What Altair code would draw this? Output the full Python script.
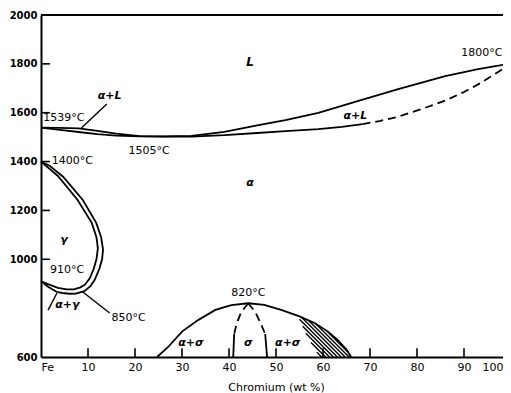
import altair as alt
import pandas as pd
import numpy as np

# ---------------- data ----------------
# liquidus (L / alpha+L), solid
liq_x = [0, 4, 8, 12, 16, 21, 26, 32, 39, 46, 52, 59, 67, 76, 86, 93, 97, 100]
liq_T = [1539, 1538, 1536, 1526, 1514, 1504, 1503, 1505, 1522, 1548, 1570, 1599, 1645, 1697, 1750, 1778, 1792, 1800]
# solidus (alpha+L / alpha), solid part
sol_x = [0, 4, 8, 12, 16, 21, 26, 32, 39, 46, 52, 59, 64, 68.4]
sol_T = [1539, 1530, 1521, 1512, 1506, 1503, 1502, 1502, 1508, 1517, 1525, 1533, 1542, 1553]
# solidus, dashed part
sold_x = [68.4, 72, 75.7, 81, 86.3, 90, 93.2, 97, 100]
sold_T = [1553, 1566, 1582, 1615, 1652, 1685, 1718, 1764, 1800]
# gamma loop, outer boundary
go_x = [0, 1.9, 4.7, 8.9, 11.75, 12.8, 13.2, 13.0, 12.4, 11.4, 10.5, 9.3, 7.5, 6.1, 4.5, 3.3, 1.5, 0]
go_T = [1400, 1382, 1338, 1243, 1149, 1090, 1040, 1000, 960, 915, 890, 870, 860, 859, 862, 867, 888, 910]
# gamma loop, inner boundary
gi_x = [0, 1.5, 3.6, 7.8, 10.8, 11.8, 12.1, 11.8, 11.2, 10.4, 9.4, 8.4, 7.0, 5.5, 3.6, 1.5, 0]
gi_T = [1400, 1375, 1341, 1243, 1149, 1090, 1045, 1000, 960, 923, 897, 885, 877, 877, 883, 898, 910]
# sigma dome (alpha / alpha+sigma)
dome_x = [24.7, 27, 30, 33.5, 37.1, 40.5, 44.1, 47.5, 51.1, 55, 58.2, 61, 63.1, 65, 66]
dome_T = [600, 640, 704, 752, 793, 812, 820, 813, 793, 766, 739, 705, 670, 630, 600]
# sigma phase boundaries (dashed upper part, solid lower part)
sl_dx = [44.1, 42.6, 41.6, 41.1]
sl_dT = [820, 784, 735, 694]
sl_sx = [41.1, 40.9]
sl_sT = [694, 600]
sr_dx = [44.1, 45.6, 46.8, 47.7]
sr_dT = [820, 784, 735, 694]
sr_sx = [47.7, 48.1]
sr_sT = [694, 600]
# inner edge of the hatched band
hatch_x = [54.6, 56.5, 59.3]
hatch_T = [772, 690, 600]

# axis ticks and labels
x_ticks = [10, 20, 30, 40, 50, 60, 70, 80, 90]
x_labels = [0, 10, 20, 30, 40, 50, 60, 70, 80, 90, 100]
y_ticks = [1000, 1200, 1400, 1600, 1800]
y_labels = [600, 1000, 1200, 1400, 1600, 1800, 2000]

# annotations
ann_c_text = ["1505°C", "820°C"]
ann_c_x = [23, 44.1]
ann_c_T = [1443, 864]
ann_l_text = ["1539°C", "1400°C", "910°C", "850°C"]
ann_l_x = [0.5, 2.3, 1.9, 15.0]
ann_l_T = [1578, 1402, 956, 760]
ann_r_text = ["1800°C"]
ann_r_x = [98.2]
ann_r_T = [1844]
greek_text = ["α+L", "α+L", "α+γ", "α+σ", "α+σ", "σ", "α", "γ"]
greek_x = [14.6, 66.9, 5.6, 31.9, 52.5, 44.1, 44.5, 4.9]
greek_T = [1668, 1587, 813, 657, 657, 657, 1312, 1079]
bigL_text = ["L"]
bigL_x = [44.5]
bigL_T = [1808]
# leader lines
lead_x = [14.0, 1.5, 8.9]
lead_T = [1636, 792, 866]
lead_x2 = [8.6, 3.4, 14.6]
lead_T2 = [1537, 862, 780]

# inward tick lengths, in data units
TICK_T = 36.0   # for ticks on the x axis
TICK_X = 1.9    # for ticks on the y axis

# ---------------- build tables ----------------
def curve(name, xs, ts, dashed):
    return pd.DataFrame({"x": xs, "T": ts, "curve": name, "i": range(len(xs)), "dashed": dashed})

curves = pd.concat([
    curve("liq", liq_x, liq_T, False),
    curve("sol", sol_x, sol_T, False),
    curve("sold", sold_x, sold_T, True),
    curve("go", go_x, go_T, False),
    curve("gi", gi_x, gi_T, False),
    curve("dome", dome_x, dome_T, False),
    curve("sld", sl_dx, sl_dT, True),
    curve("sls", sl_sx, sl_sT, False),
    curve("srd", sr_dx, sr_dT, True),
    curve("srs", sr_sx, sr_sT, False),
], ignore_index=True)

# hatch strokes clipped to the band between hatch edge and dome
xs = np.linspace(54.0, 66.5, 4000)
dome_i = np.interp(xs, dome_x, dome_T)
left_i = np.interp(xs, hatch_x, hatch_T, left=np.inf, right=-np.inf)
lower = np.maximum(600, left_i)
valid = lower <= dome_i
k = 19.24  # deg C per wt% for a 45 degree stroke
cmin = np.min((lower + k * xs)[valid])
cmax = np.max((dome_i + k * xs)[valid])
step = 16.0
segs = []
for c in np.arange(cmin + step / 2, cmax, step):
    tl = c - k * xs
    inside = valid & (tl <= dome_i) & (tl >= lower)
    idx = np.where(inside)[0]
    if len(idx) < 2:
        continue
    segs.append((xs[idx[0]], tl[idx[0]], xs[idx[-1]], tl[idx[-1]]))
hatch_df = pd.DataFrame(segs, columns=["x", "T", "x2", "T2"])

ticks_df = pd.concat([
    pd.DataFrame({"x": x_ticks, "x2": x_ticks, "T": 600.0, "T2": 600.0 + TICK_T}),
    pd.DataFrame({"x": 0.0, "x2": TICK_X, "T": y_ticks, "T2": y_ticks}),
], ignore_index=True)

X = alt.Scale(domain=[0, 100], nice=False, zero=False)
Y = alt.Scale(domain=[600, 2000], nice=False, zero=False)
FONT = "DejaVu Sans"

AX = alt.Axis(
    values=x_labels, title="Chromium (wt %)", format="d",
    labelExpr="datum.value == 0 ? 'Fe' : datum.label",
    labelAlign=alt.ExprRef("datum.value == 0 ? 'left' : (datum.value == 100 ? 'right' : 'center')"),
    labelOffset=alt.ExprRef("datum.value == 100 ? -8 : 0"),
    ticks=False, grid=False, domainWidth=2, domainColor="black", labelPadding=4,
    labelFont=FONT, labelFontSize=11, labelColor="black", titleFont=FONT, titleFontSize=11,
    titleFontWeight="normal", titleColor="black", titlePadding=9)
AY = alt.Axis(
    values=y_labels, title=None, format="d", ticks=False, grid=False, domainWidth=2, domainColor="black",
    labelPadding=4, labelFont=FONT, labelFontSize=10, labelFontWeight="bold", labelColor="black")


def ex(f="x"):
    return alt.X(f"{f}:Q", scale=X, axis=AX, title="Chromium (wt %)")


def ey(f="T"):
    return alt.Y(f"{f}:Q", scale=Y, axis=AY, title=None)


border = alt.Chart(pd.DataFrame({"x": [0], "x2": [100], "T": [2000]})).mark_rule(
    color="black", strokeWidth=2
).encode(x=ex(), x2="x2:Q", y=ey())

solid = alt.Chart(curves[~curves.dashed]).mark_line(color="black", strokeWidth=1.8).encode(
    x=ex(), y=ey(), detail="curve:N", order="i:Q")
dashed = alt.Chart(curves[curves.dashed]).mark_line(color="black", strokeWidth=1.8, strokeDash=[8, 5]).encode(
    x=ex(), y=ey(), detail="curve:N", order="i:Q")
hatch = alt.Chart(hatch_df).mark_rule(color="black", strokeWidth=1.4).encode(
    x=ex(), y=ey(), x2="x2:Q", y2="T2:Q")
leaders = alt.Chart(pd.DataFrame({"x": lead_x, "T": lead_T, "x2": lead_x2, "T2": lead_T2})).mark_rule(
    color="black", strokeWidth=1.4).encode(x=ex(), y=ey(), x2="x2:Q", y2="T2:Q")
ticks = alt.Chart(ticks_df).mark_rule(color="black", strokeWidth=1.6).encode(
    x=ex(), y=ey(), x2="x2:Q", y2="T2:Q")


def texts(tx, xx, tt, align, **kw):
    df = pd.DataFrame({"t": tx, "x": xx, "T": tt})
    return alt.Chart(df).mark_text(align=align, baseline="middle", font=FONT, color="black", **kw).encode(
        x=ex(), y=ey(), text="t:N")


t_c = texts(ann_c_text, ann_c_x, ann_c_T, "center", fontSize=11)
t_l = texts(ann_l_text, ann_l_x, ann_l_T, "left", fontSize=11)
t_r = texts(ann_r_text, ann_r_x, ann_r_T, "right", fontSize=11)
t_g = texts(greek_text, greek_x, greek_T, "center", fontSize=11, fontStyle="italic", fontWeight="bold")
t_L = texts(bigL_text, bigL_x, bigL_T, "center", fontSize=12, fontStyle="italic", fontWeight="bold")

chart = alt.layer(border, hatch, solid, dashed, leaders, ticks, t_c, t_l, t_r, t_g, t_L).properties(
    width=470, height=342,
    autosize=alt.AutoSizeParams(type="none"),
    padding={"left": 33, "top": 7, "right": -8, "bottom": 36},
).configure_view(stroke=None).configure(background="white")

chart.save("out.html", embed_options={"renderer": "svg", "actions": False})
